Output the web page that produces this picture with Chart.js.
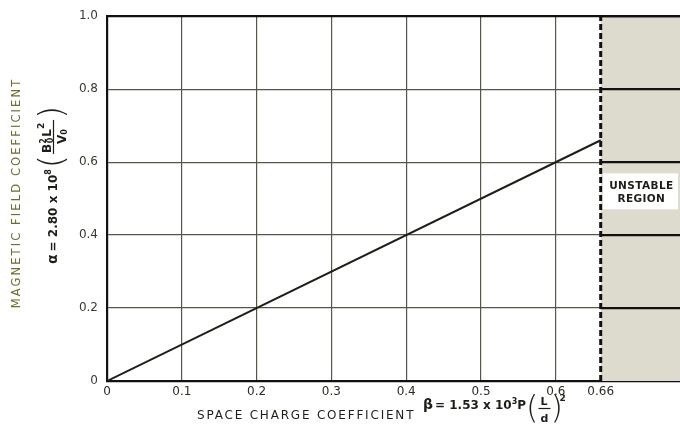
<!DOCTYPE html>
<html>
<head>
<meta charset="utf-8">
<script src="https://cdn.jsdelivr.net/npm/chart.js@4.4.0/dist/chart.umd.min.js"></script>
<style>
  html, body { margin: 0; padding: 0; background: #fff; }
  #wrap { width: 680px; height: 427px; }
</style>
</head>
<body>
<div id="wrap"><canvas id="chart" width="680" height="427"></canvas></div>
<script>
// space charge coefficient (beta) vs magnetic field coefficient (alpha)
const betaValues = [0, 0.66];
const alphaValues = [0, 0.66];
const unstableFrom = 0.66;

const xTickValues = [0, 0.1, 0.2, 0.3, 0.4, 0.5, 0.6, 0.66];
const yTickValues = [0, 0.2, 0.4, 0.6, 0.8, 1.0];
const unstableLabel = ["UNSTABLE", "REGION"];
const unstableLabelAt = 0.52;

const INK = "#1e1e18";
const GRID = "#55554a";
const OLIVE = "#6f6d2c";
const SHADE = "#dcdbcd";

// shaded unstable region, with heavy rules across it
const unstablePlugin = {
  id: "unstable",
  beforeDatasetsDraw(chart) {
    const { ctx, chartArea, scales } = chart;
    const x0 = scales.x.getPixelForValue(unstableFrom);
    ctx.save();
    ctx.fillStyle = SHADE;
    ctx.fillRect(x0, chartArea.top, chartArea.right - x0, chartArea.bottom - chartArea.top);

    ctx.strokeStyle = "#111";
    ctx.lineWidth = 2.2;
    yTickValues.forEach((v) => {
      if (v === 0) return;
      const y = scales.y.getPixelForValue(v);
      ctx.beginPath();
      ctx.moveTo(x0, y);
      ctx.lineTo(chartArea.right, y);
      ctx.stroke();
    });

    // top frame line
    ctx.beginPath();
    ctx.moveTo(chartArea.left, chartArea.top);
    ctx.lineTo(chartArea.right, chartArea.top);
    ctx.stroke();
    ctx.restore();
  },
  afterDatasetsDraw(chart) {
    const { ctx, chartArea, scales } = chart;
    const x0 = scales.x.getPixelForValue(unstableFrom);
    const cx = (x0 + chartArea.right) / 2 + 1;
    const cy = scales.y.getPixelForValue(unstableLabelAt);
    ctx.save();
    ctx.fillStyle = "#fff";
    ctx.fillRect(x0 + 2, cy - 18, chartArea.right - x0 - 4, 36);
    ctx.fillStyle = INK;
    ctx.font = "bold 10.5px 'DejaVu Sans'";
    ctx.letterSpacing = "0.4px";
    ctx.textAlign = "center";
    ctx.textBaseline = "middle";
    ctx.fillText(unstableLabel[0], cx, cy - 5);
    ctx.fillText(unstableLabel[1], cx, cy + 8);
    ctx.restore();
  },
};

// draw a run of text pieces left to right, returns the end x
function drawRun(ctx, x, y, pieces) {
  pieces.forEach((p) => {
    ctx.font = p.font;
    ctx.fillText(p.text, x, y + (p.dy || 0));
    x += ctx.measureText(p.text).width + (p.gap || 0);
  });
  return x;
}

const titlesPlugin = {
  id: "titles",
  afterDraw(chart) {
    const { ctx } = chart;
    const f = "'DejaVu Sans'";

    // y axis title
    ctx.save();
    ctx.translate(17, 193);
    ctx.rotate(-Math.PI / 2);
    ctx.fillStyle = OLIVE;
    ctx.font = `11.5px ${f}`;
    ctx.letterSpacing = "2.1px";
    ctx.textAlign = "center";
    ctx.textBaseline = "middle";
    ctx.fillText("MAGNETIC FIELD COEFFICIENT", 0, 0);
    ctx.restore();

    // alpha = 2.80 x 10^8 (B0^2 L^2 / V0)
    ctx.save();
    ctx.translate(57, 264);
    ctx.rotate(-Math.PI / 2);
    ctx.fillStyle = INK;
    ctx.textBaseline = "alphabetic";
    let x = drawRun(ctx, 0, 0, [
      { text: "\u03b1", font: `bold 14px ${f}`, gap: 3 },
      { text: "= 2.80 x 10", font: `bold 12px ${f}` },
      { text: "8", font: `bold 8px ${f}`, dy: -6, gap: 1 },
    ]);
    ctx.font = `200 34px ${f}`;
    ctx.textBaseline = "middle";
    ctx.fillText("(", x, -3);
    x += ctx.measureText("(").width;
    const numW = 34;
    const nx = x + 1;
    ctx.textBaseline = "alphabetic";
    drawRun(ctx, nx + 1, -6, [
      { text: "B", font: `bold 12px ${f}` },
      { text: "2", font: `bold 8px ${f}`, dy: -5, gap: -5 },
      { text: "0", font: `bold 8px ${f}`, dy: 2, gap: 1 },
      { text: "L", font: `bold 12px ${f}` },
      { text: "2", font: `bold 9px ${f}`, dy: -7 },
    ]);
    ctx.strokeStyle = INK;
    ctx.lineWidth = 1.2;
    ctx.beginPath();
    ctx.moveTo(nx, -3.5);
    ctx.lineTo(nx + numW, -3.5);
    ctx.stroke();
    drawRun(ctx, nx + 10, 9, [
      { text: "V", font: `bold 12px ${f}` },
      { text: "0", font: `bold 8px ${f}`, dy: 1 },
    ]);
    ctx.font = `200 34px ${f}`;
    ctx.textBaseline = "middle";
    ctx.fillText(")", nx + numW + 1, -3);
    ctx.restore();

    // x axis title
    ctx.save();
    ctx.fillStyle = INK;
    ctx.textBaseline = "alphabetic";
    ctx.font = `12px ${f}`;
    ctx.letterSpacing = "1.8px";
    ctx.fillText("SPACE CHARGE COEFFICIENT", 197, 419);
    ctx.letterSpacing = "0px";
    x = drawRun(ctx, 423, 409, [
      { text: "\u03b2", font: `bold 14px ${f}`, gap: 2 },
      { text: "= 1.53 x 10", font: `bold 12px ${f}` },
      { text: "3", font: `bold 8px ${f}`, dy: -5 },
      { text: "P", font: `bold 12px ${f}` },
    ]);
    ctx.font = `200 32px ${f}`;
    ctx.textBaseline = "middle";
    ctx.fillText("(", x, 410);
    x += ctx.measureText("(").width;
    ctx.textBaseline = "alphabetic";
    ctx.font = `bold 11px ${f}`;
    ctx.fillText("L", x + 2, 405);
    ctx.fillText("d", x + 2, 422);
    ctx.strokeStyle = INK;
    ctx.lineWidth = 1.2;
    ctx.beginPath();
    ctx.moveTo(x, 408.5);
    ctx.lineTo(x + 12, 408.5);
    ctx.stroke();
    ctx.font = `200 32px ${f}`;
    ctx.textBaseline = "middle";
    ctx.fillText(")", x + 12, 410);
    ctx.textBaseline = "alphabetic";
    ctx.font = `bold 9px ${f}`;
    ctx.fillText("2", x + 12 + 9, 401);
    ctx.restore();
  },
};

new Chart(document.getElementById("chart"), {
  type: "scatter",
  data: {
    datasets: [
      {
        label: "stability limit",
        data: betaValues.map((b, i) => ({ x: b, y: alphaValues[i] })),
        showLine: true,
        borderColor: INK,
        borderWidth: 2,
        pointRadius: 0,
      },
      {
        label: "boundary",
        data: [
          { x: unstableFrom, y: 0 },
          { x: unstableFrom, y: 1 },
        ],
        showLine: true,
        borderColor: "#111",
        borderWidth: 3,
        borderDash: [6, 3],
        pointRadius: 0,
      },
    ],
  },
  options: {
    responsive: false,
    animation: false,
    layout: { padding: { top: 15, right: 0, left: 0, bottom: 0 } },
    plugins: {
      legend: { display: false },
      tooltip: { enabled: false },
    },
    scales: {
      x: {
        type: "linear",
        min: 0,
        max: 0.766,
        afterBuildTicks: (s) => {
          s.ticks = xTickValues.map((v) => ({ value: v }));
        },
        afterFit: (s) => {
          s.height = 46;
        },
        ticks: {
          color: "#2c2c24",
          font: { family: "'DejaVu Sans'", size: 12 },
          padding: 4,
          maxRotation: 0,
          autoSkip: false,
          callback: (v) => (v === 0 ? "0" : String(v)),
        },
        grid: {
          drawTicks: false,
          color: (c) =>
            c.tick && (c.tick.value === 0 || c.tick.value === unstableFrom)
              ? "rgba(0,0,0,0)"
              : GRID,
          lineWidth: 1.2,
        },
        border: { display: true, color: "#111", width: 2.2 },
      },
      y: {
        type: "linear",
        min: 0,
        max: 1,
        afterBuildTicks: (s) => {
          s.ticks = yTickValues.map((v) => ({ value: v }));
        },
        afterFit: (s) => {
          s.width = 107;
        },
        ticks: {
          color: "#3a3a30",
          font: { family: "'DejaVu Sans'", size: 12 },
          padding: 9,
          callback: (v) => (v === 0 ? "0" : v.toFixed(1)),
        },
        grid: {
          drawTicks: false,
          color: (c) =>
            c.tick && (c.tick.value === 0 || c.tick.value === 1) ? "rgba(0,0,0,0)" : GRID,
          lineWidth: 1.2,
        },
        border: { display: true, color: "#111", width: 2.2 },
      },
    },
  },
  plugins: [unstablePlugin, titlesPlugin],
});
</script>
</body>
</html>
